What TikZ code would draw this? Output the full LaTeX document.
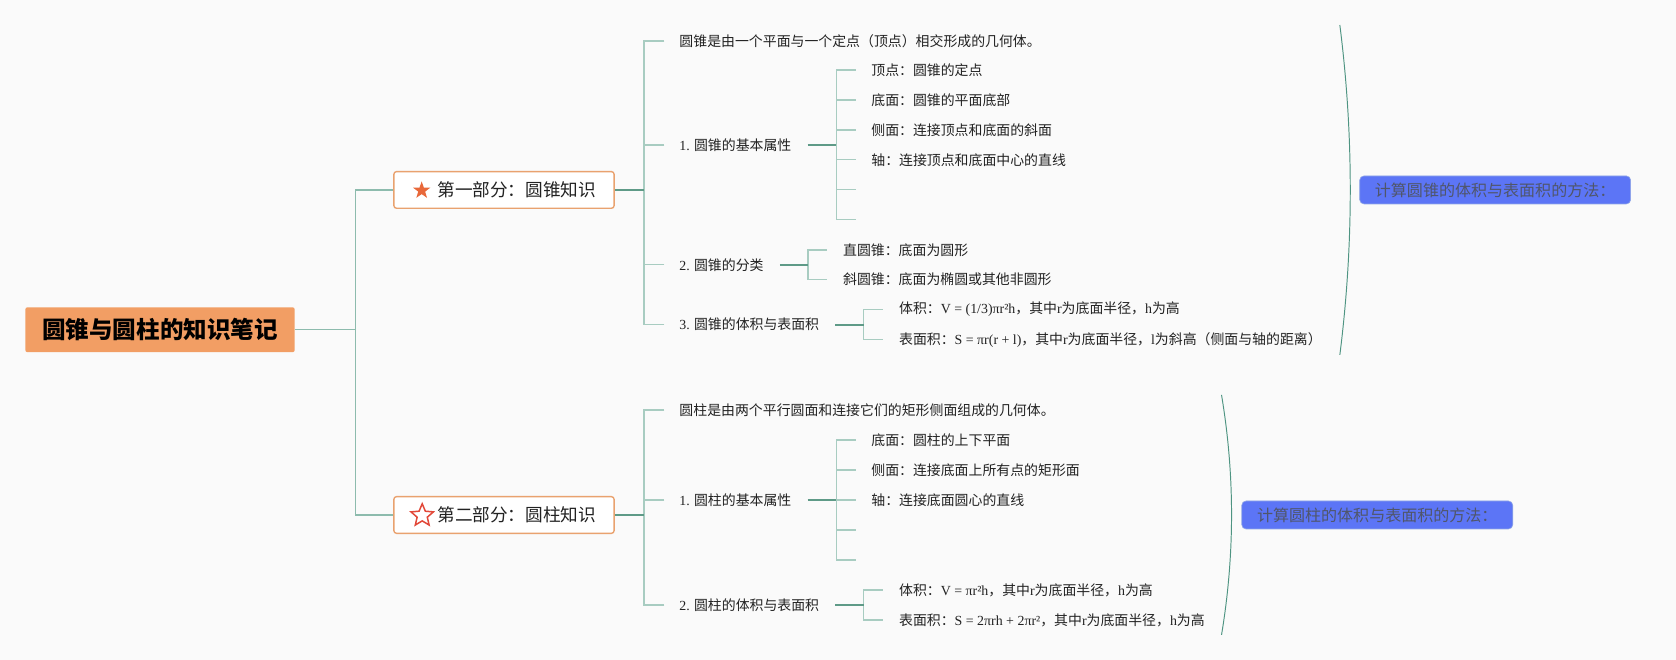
\documentclass[tikz,border=0pt]{standalone}
\usepackage{fontspec}
\setmainfont{Liberation Serif}
\newfontfamily\cjk{Noto Sans CJK SC}
\usetikzlibrary{shapes.geometric}
\definecolor{bg}{HTML}{FAFAFA}
\definecolor{lnlight}{HTML}{A8CCC1}
\definecolor{lnmid}{HTML}{8DBBAD}
\definecolor{lndark}{HTML}{5E9A87}
\definecolor{bracecol}{HTML}{4E9482}
\definecolor{rootfill}{HTML}{F29E64}
\definecolor{partborder}{HTML}{E9A26F}
\definecolor{bluefill}{HTML}{5C75F6}
\definecolor{blueborder}{HTML}{8FA6E6}
\definecolor{bluetext}{HTML}{50566A}
\definecolor{starfill}{HTML}{E8683A}
\definecolor{starline}{HTML}{E2493A}
\definecolor{leaftext}{HTML}{222222}
\newcommand\lt[1]{{\rmfamily #1}}
\begin{document}
\begin{tikzpicture}[x=1pt,y=-1pt,
  rootbox/.style={fill=rootfill,rounded corners=2pt,minimum width=252pt,minimum height=42pt,inner sep=0pt,
    font=\cjk\bfseries\fontsize{22}{26}\selectfont,text=black},
  partbox/.style={draw=partborder,line width=1.3pt,fill=white,rounded corners=2.5pt,minimum width=206pt,
    minimum height=34.3pt,inner sep=0pt,font=\cjk\fontsize{16.5}{20}\selectfont,text=leaftext},
  bluebox/.style={draw=blueborder,line width=0.6pt,fill=bluefill,rounded corners=4pt,minimum width=253.5pt,
    minimum height=26.2pt,inner sep=0pt,font=\cjk\fontsize{15}{18}\selectfont,text=bluetext},
  leaf/.style={anchor=west,inner sep=0pt,font=\cjk\fontsize{13}{16}\selectfont,text=leaftext},
  ltln/.style={draw=lnlight,line width=1.3pt},
  midln/.style={draw=lnmid,line width=1.4pt},
  dkln/.style={draw=lndark,line width=1.7pt},
  bracel/.style={draw=bracecol,line width=0.9pt},
  fstar/.style={star,star points=5,star point ratio=2.5,fill=starfill,minimum size=17pt,inner sep=0pt},
  ostar/.style={star,star points=5,star point ratio=2.2,draw=starline,line width=1.4pt,fill=white,minimum size=22pt,inner sep=0pt}
]
\fill[bg] (0,0) rectangle (1568,617.4);
\useasboundingbox (0,0) rectangle (1568,617.4);

% root and parts
\node[rootbox] (root) at (149.7,308.5) {圆锥与圆柱的知识笔记};
\node[partbox] (p1) at (471.5,177.7) {\hspace*{24pt}第一部分：圆锥知识};
\node[partbox] (p2) at (471.5,481.8) {\hspace*{24pt}第二部分：圆柱知识};
\node[fstar] (s1) at (394.5,178.2) {};
\node[ostar] (s2) at (395,482.3) {};

\coordinate (j0) at (332.5,308.5);
\draw[midln] (root.east) -- (j0);
\draw[midln] (p1.west) -| (j0);
\draw[midln] (p2.west) -| (j0);

% ---------- part 1 ----------
\coordinate (v1) at (602.5,177.7);
\node[leaf] (a0) at (635.5,38.4) {圆锥是由一个平面与一个定点（顶点）相交形成的几何体。};
\node[leaf] (a1) at (635.5,135.6) {\lt{1.} 圆锥的基本属性};
\node[leaf] (a2) at (635.5,247.7) {\lt{2.} 圆锥的分类};
\node[leaf] (a3) at (635.5,303.7) {\lt{3.} 圆锥的体积与表面积};
\foreach \n in {a0,a1,a2,a3} \draw[ltln] ([xshift=-14pt]\n.west) -| (v1);

% sub of a1
\coordinate (v11) at (782.5,135.6);
\node[leaf] (a11) at (815,65.5) {顶点：圆锥的定点};
\node[leaf] (a12) at (815,93.5) {底面：圆锥的平面底部};
\node[leaf] (a13) at (815,121.5) {侧面：连接顶点和底面的斜面};
\node[leaf] (a14) at (815,149.5) {轴：连接顶点和底面中心的直线};
\coordinate (a15) at (800.5,177.5);
\coordinate (a16) at (800.5,205.5);
\foreach \n in {a11,a12,a13,a14} \draw[ltln] ([xshift=-14.5pt]\n.west) -| (v11);
\foreach \n in {a15,a16} \draw[ltln] (\n) -| (v11);

% sub of a2
\coordinate (v12) at (756,247.7);
\node[leaf] (a21) at (788.6,233.9) {直圆锥：底面为圆形};
\node[leaf] (a22) at (788.6,261.4) {斜圆锥：底面为椭圆或其他非圆形};
\foreach \n in {a21,a22} \draw[ltln] ([xshift=-15pt]\n.west) -| (v12);

% sub of a3
\coordinate (v13) at (808,303.7);
\node[leaf] (a31) at (841,289.5) {体积：\lt{V = (1/3)πr²h}，其中\lt{r}为底面半径，\lt{h}为高};
\node[leaf] (a32) at (841,317.8) {表面积：\lt{S = πr(r + l)}，其中\lt{r}为底面半径，\lt{l}为斜高（侧面与轴的距离）};
\foreach \n in {a31,a32} \draw[ltln] ([xshift=-15pt]\n.west) -| (v13);

\draw[dkln] (p1.east) -- (v1);
\draw[dkln] ([xshift=15pt]a1.east) -- (v11);
\draw[dkln] ([xshift=15pt]a2.east) -- (v12);
\draw[dkln] ([xshift=15pt]a3.east) -- (v13);

% ---------- part 2 ----------
\coordinate (v2) at (602.5,481.8);
\node[leaf] (b0) at (635.5,383.5) {圆柱是由两个平行圆面和连接它们的矩形侧面组成的几何体。};
\node[leaf] (b1) at (635.5,467.7) {\lt{1.} 圆柱的基本属性};
\node[leaf] (b2) at (635.5,566) {\lt{2.} 圆柱的体积与表面积};
\foreach \n in {b0,b1,b2} \draw[ltln] ([xshift=-14pt]\n.west) -| (v2);

\coordinate (v21) at (782.5,467.7);
\node[leaf] (b11) at (815,411.6) {底面：圆柱的上下平面};
\node[leaf] (b12) at (815,439.7) {侧面：连接底面上所有点的矩形面};
\node[leaf] (b13) at (815,467.7) {轴：连接底面圆心的直线};
\coordinate (b14) at (800.5,495.8);
\coordinate (b15) at (800.5,523.9);
\foreach \n in {b11,b12,b13} \draw[ltln] ([xshift=-14.5pt]\n.west) -| (v21);
\foreach \n in {b14,b15} \draw[ltln] (\n) -| (v21);

\coordinate (v22) at (808,566);
\node[leaf] (b21) at (841,552) {体积：\lt{V = πr²h}，其中\lt{r}为底面半径，\lt{h}为高};
\node[leaf] (b22) at (841,580) {表面积：\lt{S = 2πrh + 2πr²}，其中\lt{r}为底面半径，\lt{h}为高};
\foreach \n in {b21,b22} \draw[ltln] ([xshift=-15pt]\n.west) -| (v22);

\draw[dkln] (p2.east) -- (v2);
\draw[dkln] ([xshift=15pt]b1.east) -- (v21);
\draw[dkln] ([xshift=15pt]b2.east) -- (v22);

% ---------- summaries ----------
\draw[bracel] (1253.5,23.4) .. controls (1266.5,126) and (1266.5,229) .. (1253.5,332);
\node[bluebox] (c1) at (1398.8,177.7) {计算圆锥的体积与表面积的方法：};
\draw[bracel] (1142.8,369.5) .. controls (1155.3,444) and (1155.3,519) .. (1142.8,594);
\node[bluebox] (c2) at (1288.5,481.8) {计算圆柱的体积与表面积的方法：};
\end{tikzpicture}
\end{document}
